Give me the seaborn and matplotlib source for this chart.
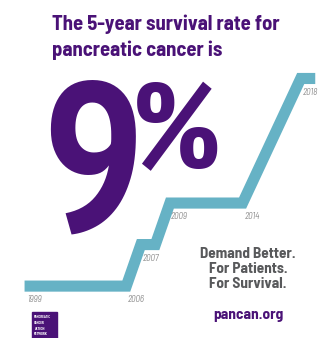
import matplotlib
matplotlib.use("Agg")
import numpy as np
import matplotlib.pyplot as plt
from matplotlib.patches import Rectangle
from matplotlib import font_manager
from matplotlib.font_manager import FontProperties
from matplotlib.textpath import TextPath
import seaborn as sns

# survival rate (%) along the stepped line
line_years = [1999, 2006, 2007, 2008, 2009, 2014, 2018, 2019]
line_rates = [4, 4, 5, 5, 6, 6, 9, 9]

# year labels under the line
label_years = [1999, 2006, 2007, 2009, 2014, 2018]
label_rates = [4, 4, 5, 6, 6, 9]

headline = ["The 5-year survival rate for", "pancreatic cancer is"]
big_value = "9"
tagline = ["Demand Better.", "For Patients.", "For Survival."]
site = "pancan.org"
logo_text = "PANCREATIC\nCANCER\nACTION\nNETWORK"

purple = "#4a1277"
teal = "#66b2c5"
grey = "#58595b"

sns.set_style("white")
bold_names = {f.name for f in font_manager.fontManager.ttflist
              if isinstance(f.weight, int) and f.weight >= 700}


def pick(options):
    for o in options:
        if o in bold_names:
            return o
    return "DejaVu Sans"


def glyph_ext(s, family):
    return TextPath((0, 0), s, size=1,
                    prop=FontProperties(family=family, weight="heavy")).get_extents()


def ink_box(s, family, fs=100):
    # render a glyph once and measure its ink in pixels relative to the text anchor
    f = plt.figure(figsize=(6, 6), dpi=100)
    f.text(0.1, 0.5, s, fontsize=fs, family=family, fontweight="heavy",
           ha="left", va="baseline", color="black")
    f.canvas.draw()
    a = np.asarray(f.canvas.buffer_rgba())[..., :3]
    plt.close(f)
    rows, cols = np.where(a.min(axis=2) < 128)
    return cols.min() - 60, cols.max() - 60, 300 - rows.min(), 300 - rows.max()


din = pick(["Barlow Semi Condensed", "Barlow", "Roboto Condensed", "Fira Sans Condensed", "Roboto"])
narrow_opts = [n for n in ["Barlow Condensed", "Oswald", "Roboto Condensed", "Fira Sans Extra Condensed",
                           "Sofia Sans Extra Condensed", "Saira Extra Condensed", "PT Sans Narrow",
                           "Asap Condensed", "Liberation Sans Narrow", "Saira Condensed",
                           "Sofia Sans Condensed", "Encode Sans Condensed"] if n in bold_names]
# narrowest heavy "9" closest to the reference shape (width / height ~ 0.51)
big_font = min(narrow_opts or ["DejaVu Sans"],
               key=lambda f: abs(glyph_ext("9", f).width / glyph_ext("9", f).height - 0.51))
plt.rcParams["font.family"] = [din, "DejaVu Sans"]

W, H = 326, 338
fig = plt.figure(figsize=(W / 100, H / 100), dpi=100)
fig.patch.set_facecolor("white")
ax = fig.add_axes([0, 0, 1, 1])

sns.lineplot(x=line_years, y=line_rates, ax=ax, sort=False, estimator=None,
             color=teal, linewidth=8, solid_joinstyle="miter", solid_capstyle="butt")
ax.set_xlim(1997.31, 2019.74)
ax.set_ylim(2.75, 10.89)
ax.axis("off")

for yr, r in zip(label_years, label_rates):
    ax.annotate(str(yr), (yr, r), xytext=(7, -10), textcoords="offset points",
                ha="center", va="center", fontsize=6.5, style="italic", color="#8c8c8c")


def px(x, y):
    return x / W, 1 - y / H


renderer = fig.canvas.get_renderer()


def fit(t, width):
    # scale a text so its rendered width matches the reference
    bb = t.get_window_extent(renderer)
    t.set_fontsize(t.get_fontsize() * width / bb.width)


def place_glyph(s, left, top, bottom):
    # size and position a glyph so its ink spans top..bottom with its left edge at `left`
    l, r, t, b = ink_box(s, big_font)
    k = (bottom - top) / (t - b)
    fig.text(*px(left - l * k, bottom + b * k), s, ha="left", va="baseline",
             fontsize=100 * k, fontweight="heavy", color=purple, family=big_font)
    return left + (r - l) * k


t1 = fig.text(*px(52, 30), headline[0], ha="left", va="baseline", fontsize=15,
              fontweight="bold", color=purple)
fit(t1, 228)
fig.text(*px(52, 56), headline[1], ha="left", va="baseline", fontsize=t1.get_fontsize(),
         fontweight="bold", color=purple)

right9 = place_glyph(big_value, 50, 82, 235)
place_glyph("%", right9 + 4, 82, 170)

tt = []
for line, base in zip(tagline, [258, 273, 288]):
    tt.append(fig.text(*px(248, base), line, ha="center", va="baseline", fontsize=12.5,
                       fontweight="bold", color=grey))
fit(tt[0], 96)
for t in tt[1:]:
    t.set_fontsize(tt[0].get_fontsize())
ts = fig.text(*px(248, 319), site, ha="center", va="baseline", fontsize=11,
              fontweight="bold", color=purple)
fit(ts, 70)

fig.patches.append(Rectangle(px(32, 338), 25 / W, 26 / H, transform=fig.transFigure,
                             color=purple, zorder=0))
fig.text(*px(34, 315), logo_text, ha="left", va="top", fontsize=2.8,
         fontweight="bold", color="white", linespacing=1.6, family=big_font)

fig.savefig("out.png", dpi=100, facecolor="white")
